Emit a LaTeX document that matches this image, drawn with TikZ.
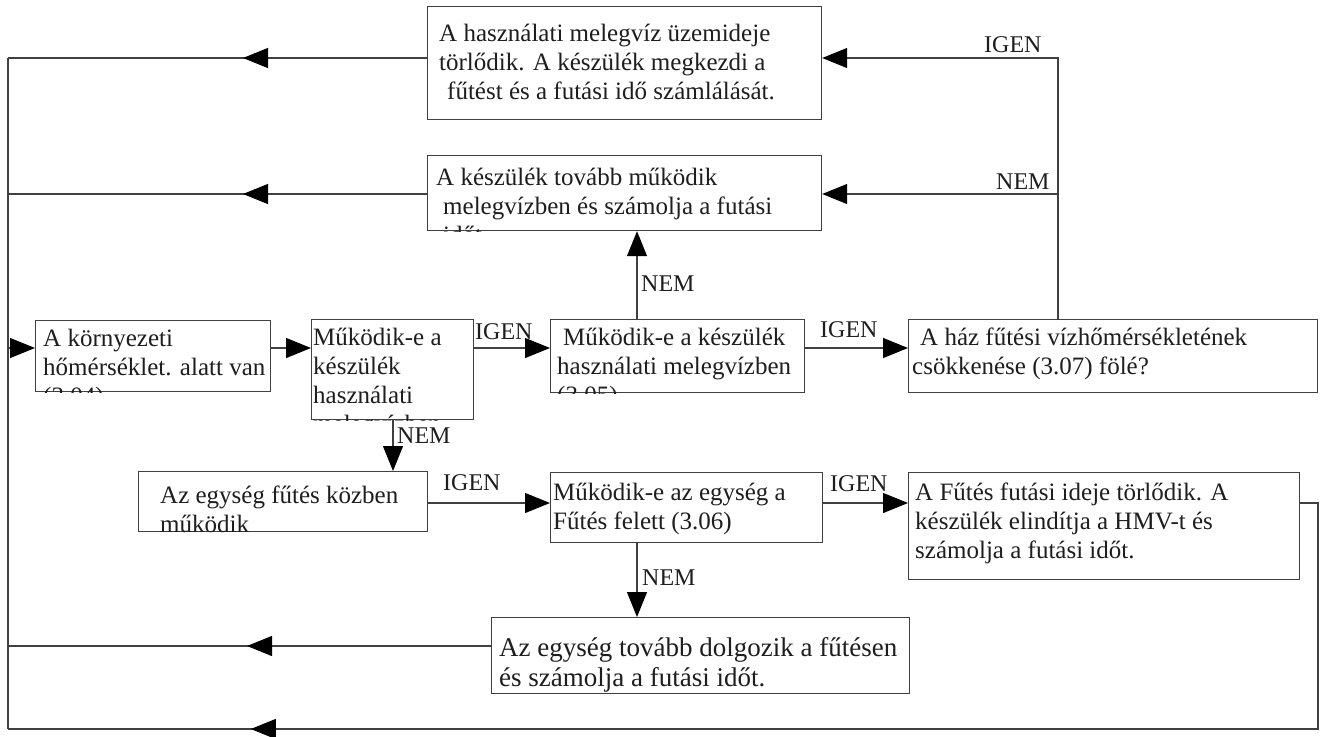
\documentclass[tikz,border=0pt]{standalone}
\usepackage{fontspec}
\setmainfont{Liberation Serif}
\usetikzlibrary{arrows.meta,decorations.markings}
\definecolor{lc}{RGB}{64,64,64}
\definecolor{tc}{RGB}{30,30,30}
\newcommand{\ml}[1]{\begin{tabular}[t]{@{}l@{}}#1\end{tabular}}
\tikzset{
  ln/.style={draw=lc, line width=1.2pt},
  box/.style={draw=lc, line width=1.2pt, fill=white, anchor=north west, inner sep=0pt},
  txt/.style={anchor=base west, inner sep=0pt, text=tc, font=\fontsize{25}{29}\selectfont},
  bigtxt/.style={txt, font=\fontsize{27}{30}\selectfont},
  lbl/.style={anchor=base west, inner sep=0pt, text=tc, font=\fontsize{24}{28}\selectfont},
  tip/.style={-{Triangle[length=25pt,width=20pt,color=black]}},
  midtip/.style={postaction={decorate}, decoration={markings, mark=at position #1 with {\arrow{Triangle[length=25pt,width=20pt,color=black]}}}},
}
\begin{document}
\begin{tikzpicture}[x=1pt,y=-1pt]
\useasboundingbox (0,0) rectangle (1337,736);
% boxes
\node[box, minimum width=394pt, minimum height=113pt] (b1) at (427,6) {};
\node[box, minimum width=394pt, minimum height=75pt] (b2) at (427,155) {};
\node[box, minimum width=235pt, minimum height=71pt] (benv) at (35,320) {};
\node[box, minimum width=162pt, minimum height=100pt] (bm) at (311,319) {};
\node[box, minimum width=254pt, minimum height=73pt] (b305) at (550,319) {};
\node[box, minimum width=409pt, minimum height=73pt] (haz) at (908,319) {};
\node[box, minimum width=289pt, minimum height=60pt] (bfut) at (138,471) {};
\node[box, minimum width=272pt, minimum height=70pt] (b306) at (550,472) {};
\node[box, minimum width=391pt, minimum height=107pt] (bfh) at (908,472) {};
\node[box, minimum width=418pt, minimum height=76pt] (bbot) at (491,617) {};
% texts (clipped by their boxes)
\begin{scope}\clip (b1.north west) rectangle (b1.south east);
\node[txt] (t1) at (439,41) {\ml{A használati melegvíz üzemideje\\törlődik. A készülék megkezdi a\\\hspace*{8pt}fűtést és a futási idő számlálását.}};
\end{scope}
\begin{scope}\clip (b2.north west) rectangle (b2.south east);
\node[txt] (t2) at (436,185) {\ml{A készülék tovább működik\\\hspace*{7pt}melegvízben és számolja a futási\\\hspace*{7pt}időt}};
\end{scope}
\begin{scope}\clip (benv.north west) rectangle (benv.south east);
\node[txt] (t3) at (43,346) {\ml{A környezeti\\hőmérséklet. alatt van\\(3.04)}};
\end{scope}
\begin{scope}\clip (bm.north west) rectangle (bm.south east);
\node[txt] (t4) at (313,345) {\ml{Működik-e a\\készülék\\használati\\melegvízben}};
\end{scope}
\begin{scope}\clip (b305.north west) rectangle (b305.south east);
\node[txt] (t5) at (557,345) {\ml{\hspace*{6pt}Működik-e a készülék\\használati melegvízben\\(3.05)}};
\end{scope}
\begin{scope}\clip (haz.north west) rectangle (haz.south east);
\node[txt] (t6) at (912,345) {\ml{\hspace*{8pt}A ház fűtési vízhőmérsékletének\\csökkenése (3.07) fölé?}};
\end{scope}
\begin{scope}\clip (bfut.north west) rectangle (bfut.south east);
\node[txt] (t7) at (160,503) {\ml{Az egység fűtés közben\\működik}};
\end{scope}
\begin{scope}\clip (b306.north west) rectangle (b306.south east);
\node[txt] (t8) at (553,500) {\ml{Működik-e az egység a\\Fűtés felett (3.06)}};
\end{scope}
\begin{scope}\clip (bfh.north west) rectangle (bfh.south east);
\node[txt] (t9) at (915,500) {\ml{A Fűtés futási ideje törlődik. A\\készülék elindítja a HMV-t és\\számolja a futási időt.}};
\end{scope}
\begin{scope}\clip (bbot.north west) rectangle (bbot.south east);
\node[bigtxt] (t10) at (499,656) {\ml{Az egység tovább dolgozik a fűtésen\\és számolja a futási időt.}};
\end{scope}
% helper coordinates
\coordinate (L1) at (8,58);
\coordinate (L2) at (8,194);
\coordinate (L3) at (8,348);
\coordinate (L4) at (8,646);
\coordinate (L5) at (8,729);
\coordinate (Rt) at (1058,58);
\coordinate (Rm) at (1058,194);
\coordinate (Rb) at (1318,503);
\coordinate (Rbb) at (1318,729);
\coordinate (R503) at (0,503);
\coordinate (X1) at (637,0);
\coordinate (X2) at (393,0);
% connectors
\draw[ln] (L1) -- (L5);
\draw[ln, midtip=184pt] (b1.west |- L1) -- (L1);
\draw[ln, midtip=184pt] (b2.west |- L2) -- (L2);
\draw[ln, tip] (Rt |- haz.north) -- (Rt) -- (b1.east |- Rt);
\draw[ln, tip] (Rm) -- (b2.east |- Rm);
\draw[ln, tip] (X1 |- b305.north) -- (X1 |- b2.south);
\draw[ln, tip] (L3) -- (benv.west |- L3);
\draw[ln, tip] (benv.east |- L3) -- (bm.west |- L3);
\draw[ln, tip] (bm.east |- L3) -- (b305.west |- L3);
\draw[ln, tip] (b305.east |- L3) -- (haz.west |- L3);
\draw[ln, tip] (X2 |- bm.south) -- (X2 |- bfut.north);
\draw[ln, tip] (bfut.east |- R503) -- (b306.west |- R503);
\draw[ln, tip] (b306.east |- R503) -- (bfh.west |- R503);
\draw[ln, tip] (X1 |- b306.south) -- (X1 |- bbot.north);
\draw[ln, midtip=244pt] (bbot.west |- L4) -- (L4);
\draw[ln, midtip=1311pt] (bfh.east |- Rb) -- (Rb) -- (Rbb) -- (L5);
% labels
\node[lbl] (g1) at (984,52) {IGEN};
\node[lbl] (n1) at (996,189) {NEM};
\node[lbl] (n2) at (641,291) {NEM};
\node[lbl] (g2) at (475,339) {IGEN};
\node[lbl] (g3) at (820,337) {IGEN};
\node[lbl] (n3) at (397,443) {NEM};
\node[lbl] (g4) at (443,490) {IGEN};
\node[lbl] (g5) at (830,491) {IGEN};
\node[lbl] (n4) at (642,585) {NEM};
\end{tikzpicture}
\end{document}
